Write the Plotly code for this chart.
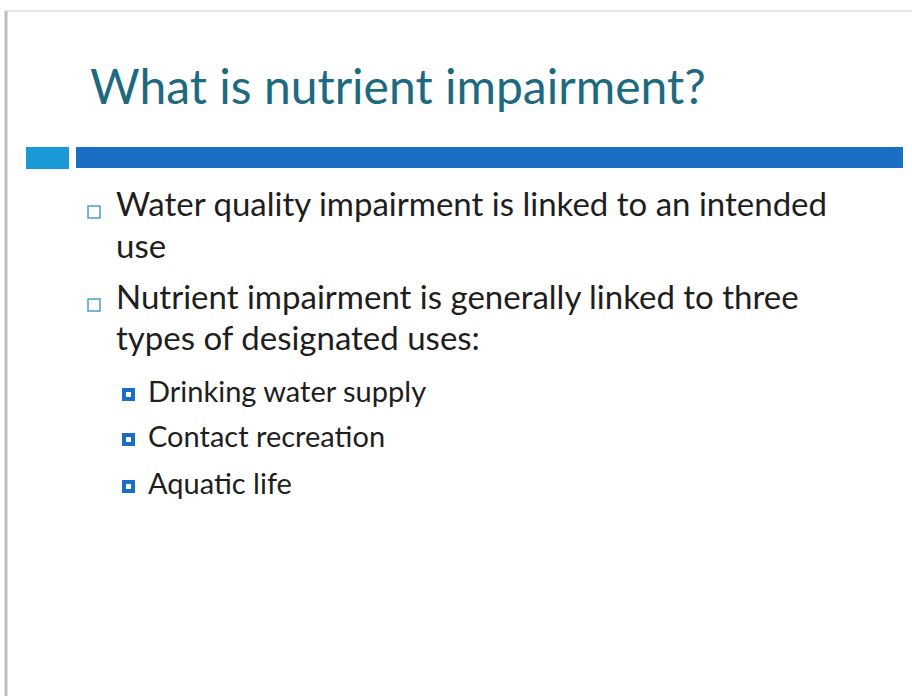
import plotly.graph_objects as go

W, H = 912, 696

title_text = "What is nutrient impairment?"
bullet_lines = [
    "Water quality impairment is linked to an intended",
    "use",
    "Nutrient impairment is generally linked to three",
    "types of designated uses:",
]
bullet_has_marker = [True, False, True, False]
bullet_baselines = [217, 259, 310, 351]
sub_items = ["Drinking water supply", "Contact recreation", "Aquatic life"]
sub_baselines = [402, 447, 494]

FONT = "Lato"
TITLE_SIZE, BODY_SIZE, SUB_SIZE = 48, 33, 29
TITLE_COLOR = "#1d6a80"
TEXT_COLOR = "#1e1e1e"
BAR_DARK = "#1a6fc4"
BAR_LIGHT = "#199ad6"
HOLLOW = "#4a9fd4"


def center_from_baseline(bl, size):
    return bl - 0.41 * size


fig = go.Figure()
fig.add_trace(go.Scatter(x=[0, W], y=[0, H], mode="markers",
                         marker=dict(opacity=0), hoverinfo="skip", showlegend=False))

shapes = []
# slide border
shapes.append(dict(type="line", x0=6, x1=W, y0=11, y1=11,
                   line=dict(color="#e6e6e6", width=2), layer="below"))
shapes.append(dict(type="line", x0=6, x1=6, y0=11, y1=H,
                   line=dict(color="#bdbdbd", width=3), layer="below"))
# header bars
shapes.append(dict(type="rect", x0=26, x1=69, y0=147, y1=169,
                   fillcolor=BAR_LIGHT, line=dict(width=0)))
shapes.append(dict(type="rect", x0=76, x1=903, y0=147, y1=168,
                   fillcolor=BAR_DARK, line=dict(width=0)))

annotations = []
annotations.append(dict(text=title_text, x=88, y=center_from_baseline(105, TITLE_SIZE),
                        xref="x", yref="y",
                        xanchor="left", yanchor="middle", showarrow=False,
                        font=dict(family=FONT, size=TITLE_SIZE, color=TITLE_COLOR)))

for txt, has_m, bl in zip(bullet_lines, bullet_has_marker, bullet_baselines):
    annotations.append(dict(text=txt, x=114, y=center_from_baseline(bl, BODY_SIZE),
                            xref="x", yref="y",
                            xanchor="left", yanchor="middle", showarrow=False,
                            font=dict(family=FONT, size=BODY_SIZE, color=TEXT_COLOR)))
    if has_m:
        cy = bl - 5
        shapes.append(dict(type="rect", x0=88, x1=100, y0=cy - 6, y1=cy + 6,
                           fillcolor="rgba(0,0,0,0)", line=dict(color=HOLLOW, width=1.5)))

for txt, bl in zip(sub_items, sub_baselines):
    annotations.append(dict(text=txt, x=146, y=center_from_baseline(bl, SUB_SIZE),
                            xref="x", yref="y",
                            xanchor="left", yanchor="middle", showarrow=False,
                            font=dict(family=FONT, size=SUB_SIZE, color=TEXT_COLOR)))
    cy = bl - 7.5
    shapes.append(dict(type="rect", x0=122, x1=135, y0=cy - 6.5, y1=cy + 6.5,
                       fillcolor=BAR_DARK, line=dict(width=0)))
    shapes.append(dict(type="rect", x0=126, x1=131, y0=cy - 2.5, y1=cy + 2.5,
                       fillcolor="white", line=dict(width=0)))

fig.update_layout(
    width=W, height=H,
    margin=dict(l=0, r=0, t=0, b=0),
    paper_bgcolor="white", plot_bgcolor="white",
    xaxis=dict(range=[0, W], visible=False, fixedrange=True),
    yaxis=dict(range=[H, 0], visible=False, fixedrange=True),
    shapes=shapes, annotations=annotations,
    showlegend=False,
)
fig.write_html("out.html", config={"displayModeBar": False},
               post_script="document.body.style.margin='0px';document.body.style.overflow='hidden';")
